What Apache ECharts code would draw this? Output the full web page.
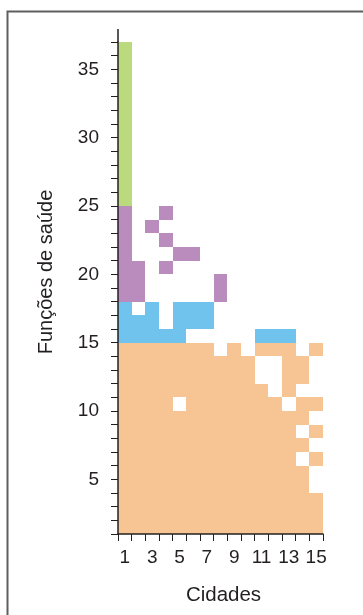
<!DOCTYPE html>
<html>
<head>
<meta charset="utf-8">
<script src="https://cdn.jsdelivr.net/npm/echarts@6/dist/echarts.min.js"></script>
<style>
html,body{margin:0;padding:0;background:#fff;}
#chart{width:363px;height:615px;}
</style>
</head>
<body>
<div id="chart"></div>
<script>
// Categories (cities) on x
const cities = ['1','2','3','4','5','6','7','8','9','10','11','12','13','14','15'];
// Labelled y ticks (health functions)
const functionTicks = [5, 10, 15, 20, 25, 30, 35];
const yMin = 1, yMax = 37;

// Occupancy per row: row number -> 15-char string, one char per city (1 = present)
const orangeRows = {
  14: '111111101011101',
  13: '111111111100110',
  12: '111111111100110',
  11: '111111111110100',
  10: '111101111111011',
  9:  '111111111111110',
  8:  '111111111111101',
  7:  '111111111111110',
  6:  '111111111111101',
  5:  '111111111111110',
  4:  '111111111111110',
  3:  '111111111111111',
  2:  '111111111111111',
  1:  '111111111111111'
};
const blueRows = {
  17: '101011100000000',
  16: '111011100000000',
  15: '111110000011100'
};
const purpleRows = {
  24: '100100000000000',
  23: '101000000000000',
  22: '100100000000000',
  21: '100011000000000',
  20: '110100000000000',
  19: '110000010000000',
  18: '110000010000000'
};
const greenRows = {
  36: '100000000000000', 35: '100000000000000', 34: '100000000000000',
  33: '100000000000000', 32: '100000000000000', 31: '100000000000000',
  30: '100000000000000', 29: '100000000000000', 28: '100000000000000',
  27: '100000000000000', 26: '100000000000000', 25: '100000000000000'
};

function toCells(rows) {
  const out = [];
  Object.keys(rows).forEach(function (r) {
    const s = rows[r];
    for (let i = 0; i < s.length; i++) {
      if (s[i] === '1') out.push([i, Number(r)]);
    }
  });
  return out;
}

function renderCell(params, api) {
  const c = api.coord([api.value(0), api.value(1)]);
  const top = api.coord([api.value(0), api.value(1) + 1]);
  const w = api.size([1, 1])[0];
  const x0 = Math.round(c[0] - w / 2);
  const x1 = Math.round(c[0] + w / 2);
  const y0 = Math.round(top[1]);
  const y1 = Math.round(c[1]);
  return {
    type: 'rect',
    shape: { x: x0, y: y0, width: x1 - x0, height: y1 - y0 },
    style: { fill: api.visual('color') }
  };
}

const groups = [
  { name: 'orange', rows: orangeRows, color: '#F6C593' },
  { name: 'blue', rows: blueRows, color: '#70C3EC' },
  { name: 'purple', rows: purpleRows, color: '#B98CBD' },
  { name: 'green', rows: greenRows, color: '#BBDA7D' }
];

const font = 'Liberation Sans, Arial, Helvetica, sans-serif';
const chart = echarts.init(document.getElementById('chart'), null, { renderer: 'canvas' });

chart.setOption({
  animation: false,
  backgroundColor: '#ffffff',
  grid: { left: 118, right: 40, top: 42, bottom: 81, containLabel: false },
  xAxis: {
    type: 'category',
    data: cities,
    boundaryGap: true,
    z: 10,
    name: 'Cidades',
    nameLocation: 'middle',
    nameGap: 51,
    nameTextStyle: { fontFamily: font, fontSize: 20.5, color: '#231f20', padding: [0, 0, 0, 6] },
    axisLine: { lineStyle: { color: '#231f20', width: 1.5 } },
    axisTick: { show: true, interval: 0, alignWithLabel: false, length: 7, lineStyle: { color: '#231f20', width: 1 } },
    axisLabel: { interval: 1, margin: 14, fontFamily: font, fontSize: 19, color: '#231f20' },
    splitLine: { show: false }
  },
  yAxis: {
    type: 'value',
    min: yMin,
    max: yMax,
    interval: 1,
    z: 10,
    name: 'Funções de saúde',
    nameLocation: 'middle',
    nameRotate: 90,
    nameGap: 62,
    nameTextStyle: { fontFamily: font, fontSize: 20, color: '#231f20', padding: [0, 0, 0, 32] },
    axisLine: { show: true, lineStyle: { color: '#231f20', width: 1.5 } },
    axisTick: { show: true, length: 7, lineStyle: { color: '#231f20', width: 1 } },
    axisLabel: {
      margin: 19, fontFamily: font, fontSize: 19, color: '#231f20',
      formatter: function (v) { return functionTicks.indexOf(v) >= 0 ? String(v) : ''; }
    },
    splitLine: { show: false }
  },
  graphic: [
    {
      type: 'polyline',
      shape: { points: [[7.5, 615], [7.5, 11.5], [363, 11.5]] },
      style: { stroke: '#5f5f5f', lineWidth: 2, fill: null },
      silent: true
    },
    {
      type: 'line',
      shape: { x1: 118, y1: 29, x2: 118, y2: 43 },
      style: { stroke: '#231f20', lineWidth: 1.5 },
      silent: true
    }
  ],
  series: groups.map(function (g) {
    return {
      type: 'custom',
      name: g.name,
      z: 1,
      renderItem: renderCell,
      itemStyle: { color: g.color },
      encode: { x: 0, y: 1 },
      data: toCells(g.rows)
    };
  })
});
</script>
</body>
</html>
